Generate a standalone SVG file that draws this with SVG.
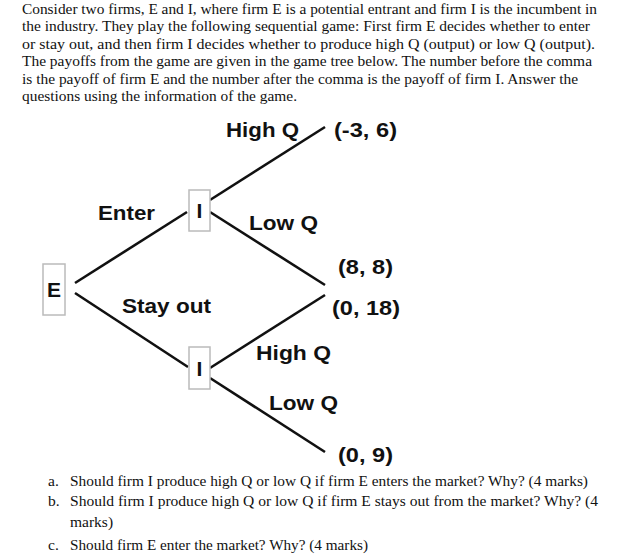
<svg xmlns="http://www.w3.org/2000/svg" width="624" height="560" viewBox="0 0 624 560">
<style>
.t{font-family:"Liberation Serif",serif;font-size:15.5px;fill:#111}
.d{font-family:"Liberation Sans",Arial,sans-serif;font-size:21px;font-weight:bold;fill:#111}
.box{fill:#fff;stroke:#bbb;stroke-width:1.5}
.e{stroke:#111;stroke-width:2.6;fill:none}
</style>
<rect width="624" height="560" fill="#fff"/>
<g id="intro">
<text class="t" x="22" y="14" textLength="575" lengthAdjust="spacingAndGlyphs">Consider two firms, E and I, where firm E is a potential entrant and firm I is the incumbent in</text>
<text class="t" x="22" y="31.4" textLength="568" lengthAdjust="spacingAndGlyphs">the industry. They play the following sequential game: First firm E decides whether to enter</text>
<text class="t" x="22" y="48.8" textLength="573" lengthAdjust="spacingAndGlyphs">or stay out, and then firm I decides whether to produce high Q (output) or low Q (output).</text>
<text class="t" x="22" y="66.2" textLength="570" lengthAdjust="spacingAndGlyphs">The payoffs from the game are given in the game tree below. The number before the comma</text>
<text class="t" x="22" y="83.6" textLength="556" lengthAdjust="spacingAndGlyphs">is the payoff of firm E and the number after the comma is the payoff of firm I. Answer the</text>
<text class="t" x="22" y="101" textLength="275" lengthAdjust="spacingAndGlyphs">questions using the information of the game.</text>
</g>
<g id="connectors">
<line class="e" x1="75" y1="283" x2="187" y2="212"/>
<line class="e" x1="75" y1="293" x2="188" y2="367"/>
<line class="e" x1="210" y1="200" x2="325" y2="127"/>
<line class="e" x1="210" y1="212" x2="325" y2="285"/>
<line class="e" x1="210" y1="368" x2="325" y2="295"/>
<line class="e" x1="210" y1="378" x2="325" y2="452"/>
</g>
<g id="nodeE"><rect class="box" x="43" y="264" width="22" height="51"/><text class="d" x="54" y="297" text-anchor="middle">E</text></g>
<g id="nodeI1"><rect class="box" x="189" y="190" width="21" height="41"/><text class="d" x="199.5" y="218" text-anchor="middle">I</text></g>
<g id="nodeI2"><rect class="box" x="189" y="347" width="21" height="42"/><text class="d" x="199.5" y="376" text-anchor="middle">I</text></g>
<g id="labels">
<text class="d" x="226" y="137" textLength="73" lengthAdjust="spacingAndGlyphs">High Q</text>
<text class="d" x="334" y="137" textLength="63" lengthAdjust="spacingAndGlyphs">(-3, 6)</text>
<text class="d" x="98" y="220" textLength="57" lengthAdjust="spacingAndGlyphs">Enter</text>
<text class="d" x="249" y="230" textLength="69" lengthAdjust="spacingAndGlyphs">Low Q</text>
<text class="d" x="338" y="274" textLength="55" lengthAdjust="spacingAndGlyphs">(8, 8)</text>
<text class="d" x="122" y="313" textLength="89" lengthAdjust="spacingAndGlyphs">Stay out</text>
<text class="d" x="332" y="315" textLength="68" lengthAdjust="spacingAndGlyphs">(0, 18)</text>
<text class="d" x="256" y="360" textLength="75" lengthAdjust="spacingAndGlyphs">High Q</text>
<text class="d" x="269" y="410" textLength="69" lengthAdjust="spacingAndGlyphs">Low Q</text>
<text class="d" x="338" y="462" textLength="55" lengthAdjust="spacingAndGlyphs">(0, 9)</text>
</g>
<g id="questions">
<text class="t" x="48" y="486">a.</text>
<text class="t" x="70" y="486" textLength="518" lengthAdjust="spacingAndGlyphs">Should firm I produce high Q or low Q if firm E enters the market? Why? (4 marks)</text>
<text class="t" x="48" y="506">b.</text>
<text class="t" x="70" y="506" textLength="528" lengthAdjust="spacingAndGlyphs">Should firm I produce high Q or low Q if firm E stays out from the market? Why? (4</text>
<text class="t" x="70" y="527">marks)</text>
<text class="t" x="48" y="550">c.</text>
<text class="t" x="70" y="550" textLength="298" lengthAdjust="spacingAndGlyphs">Should firm E enter the market? Why? (4 marks)</text>
</g>
</svg>
